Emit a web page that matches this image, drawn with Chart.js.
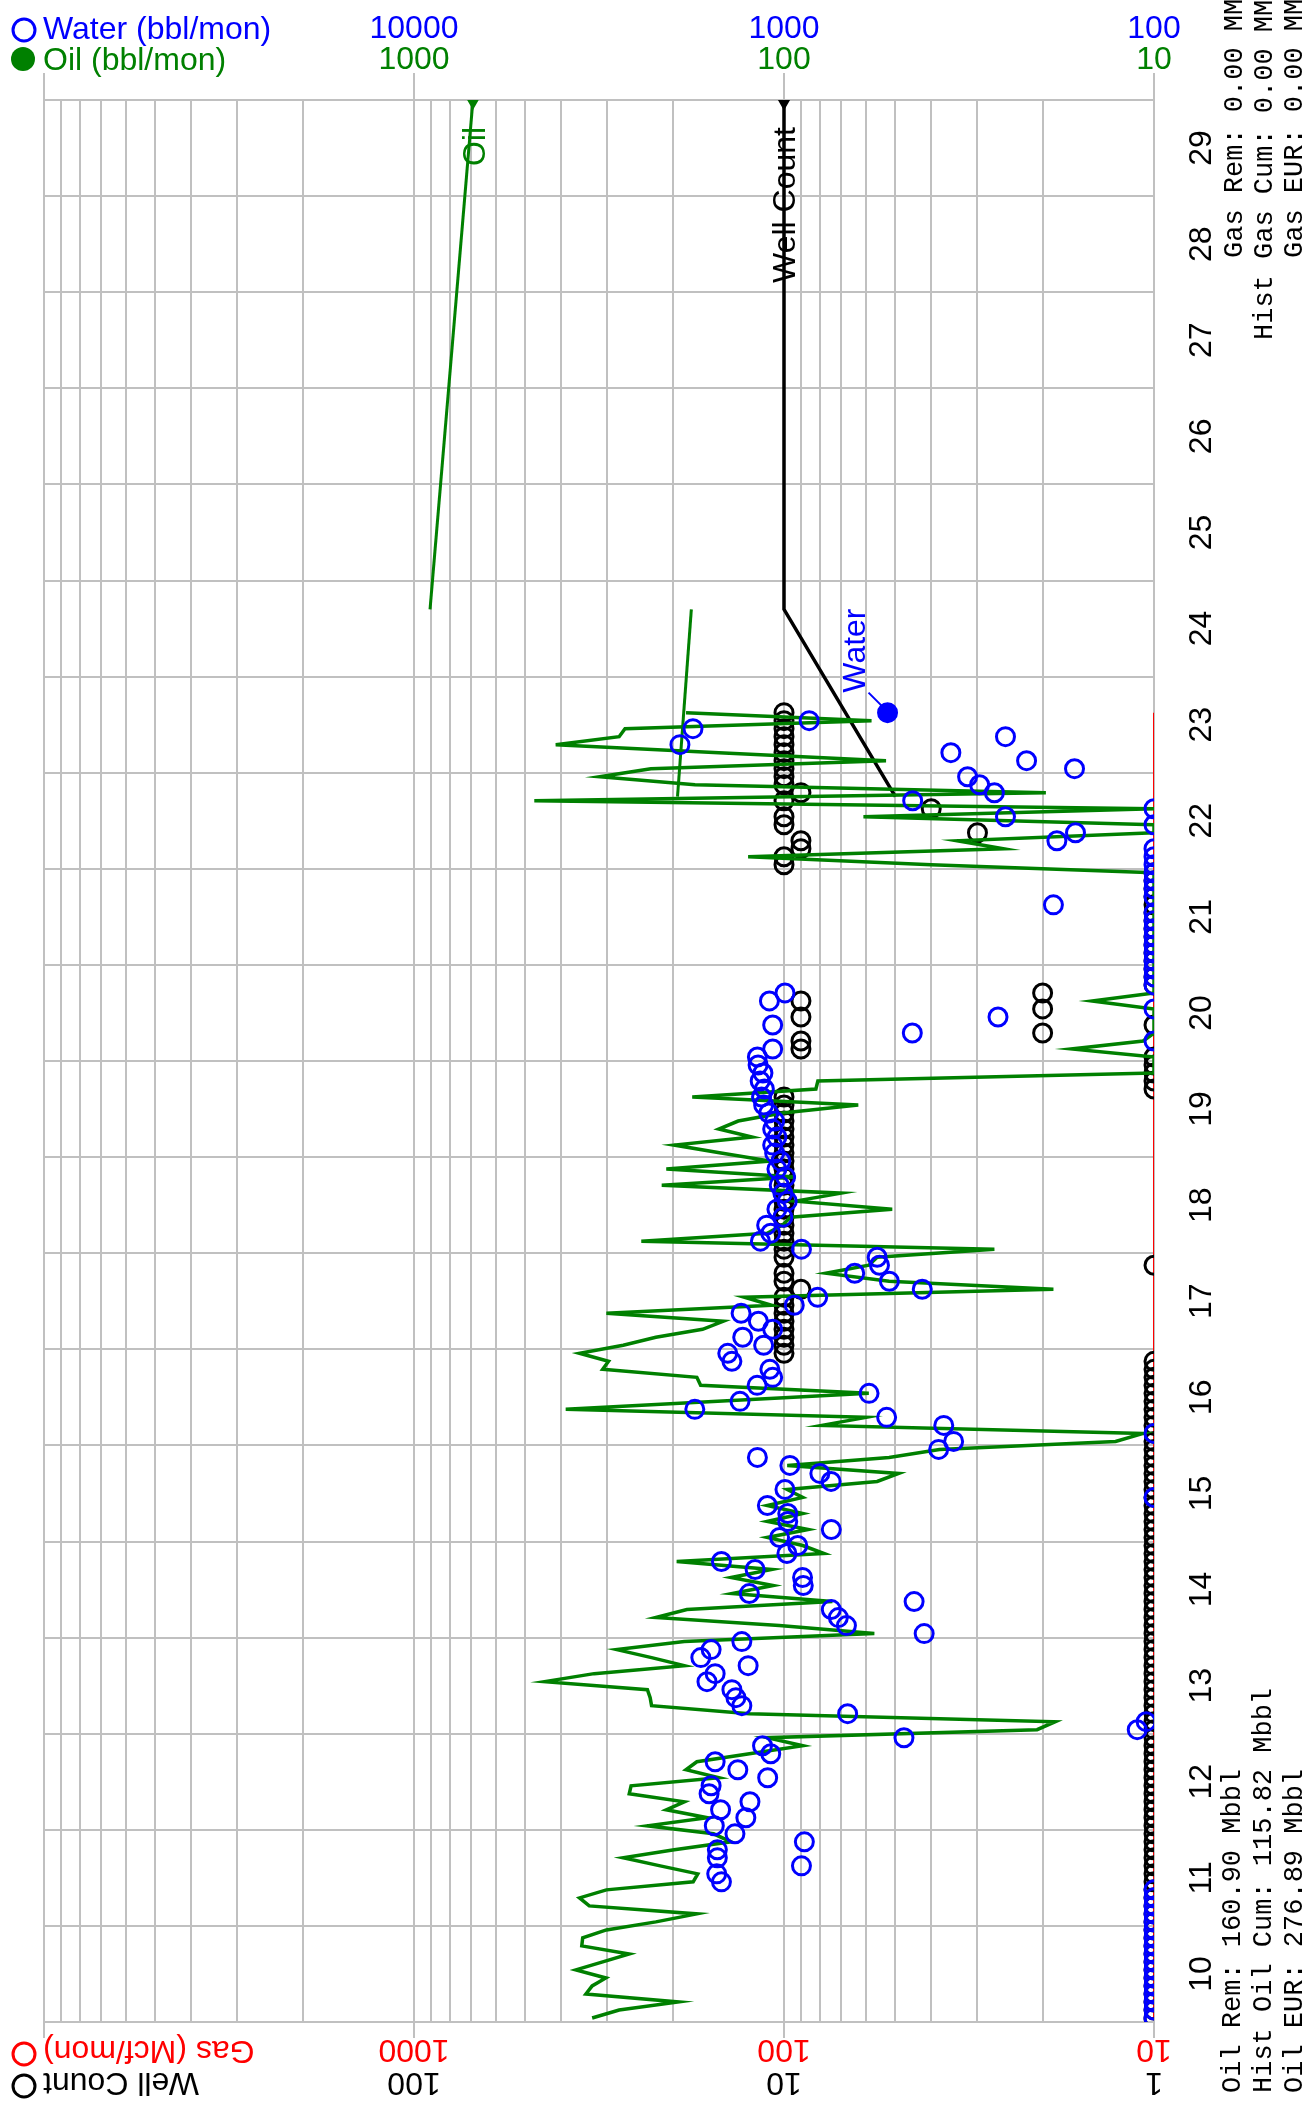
<!DOCTYPE html>
<html>
<head>
<meta charset="utf-8">
<script src="https://cdn.jsdelivr.net/npm/chart.js@4.4.1/dist/chart.umd.min.js"></script>
<style>
  html, body { margin: 0; padding: 0; background: #fff; }
  #wrap { width: 1306px; height: 2112px; }
</style>
</head>
<body>
<div id="wrap"><canvas id="myChart" width="1306" height="2112"></canvas></div>
<script>
// monthly history, first month = Jan 2010
const startYear = 2010;
const yearLabels = ['10', '11', '12', '13', '14', '15', '16', '17', '18', '19',
  '20', '21', '22', '23', '24', '25', '26', '27', '28', '29'];
const wellTicks = ['1', '10', '100'];
const gasTicks = ['10', '100', '1000'];
const waterTicks = ['100', '1000', '10000'];
const oilTicks = ['10', '100', '1000'];

// bbl/mon (0 = no production, drawn on the axis floor)
const oilRate = [
  330, 279, 193, 343, 330, 303, 365, 309, 262, 352,
  350, 302, 222, 172, 336, 357, 302, 176, 171, 216,
  272, 198, 139, 155, 234, 161, 208, 186, 262, 259,
  150, 184, 172, 124, 89, 111, 20.7, 18.5, 124, 228,
  230, 234, 443, 326, 186, 228, 283, 186, 57, 103,
  222, 183, 74, 138, 107, 139, 108, 195, 78, 89,
  111, 86, 111, 89, 111, 89, 98, 56, 49, 98,
  52, 38, 12.7, 10.7, 79, 60, 389, 151, 59, 168,
  172, 309, 298, 357, 272, 222, 166, 146, 302, 108,
  128, 18.7, 52, 77, 59, 56, 27, 243, 111, 101,
  96, 51, 93, 70, 214, 93, 208, 109, 148, 198,
  122, 150, 133, 101, 63, 177, 82, 81, 0, 0,
  0, 16.7, 10.7, 0, 0, 0, 0, 14.7, 0, 0,
  0, 0, 0, 0, 0, 0, 0, 0, 0, 0,
  0, 0, 0, 0, 40, 125, 25.5, 34, 0, 0,
  61, 0, 473, 19.6, 174, 315, 229, 53, 150, 414,
  279, 269, 58, 184
];

const waterRate = [
  0, 0, 0, 0, 0, 0, 0, 0, 0, 0,
  0, 0, 0, 0, 0, 0, 0, 1476, 1520, 897,
  1514, 1514, 881, 1357, 1543, 1268, 1484, 1236, 1594, 1574,
  1107, 1333, 1535, 1086, 1143, 474, 111, 105, 673, 1300,
  1349, 1383, 1615, 1535, 1250, 1678, 1574, 1300, 418, 678,
  713, 745, 445, 1241, 887, 891, 1197, 1476, 982, 918,
  1028, 745, 977, 977, 1109, 0, 994, 746, 800, 964,
  1180, 382, 348, 0, 370, 528, 1742, 1315, 589, 1182,
  1073, 1092, 1383, 1419, 1135, 1293, 1073, 1173, 1306, 938,
  811, 423, 519, 644, 552, 560, 897, 1158, 1086, 1114,
  1007, 1045, 980, 1007, 1030, 990, 1045, 1020, 1060, 1073,
  1045, 1073, 1060, 1100, 1135, 1150, 1130, 1160, 1140, 1175,
  1180, 1073, 0, 450, 1073, 264, 0, 1095, 994, 0,
  0, 0, 0, 0, 0, 0, 0, 0, 0, 187,
  0, 0, 0, 0, 0, 0, 0, 183, 163, 0,
  252, 0, 449, 270, 296, 319, 164, 221, 354, 1911,
  252, 1762, 855, 525
];

const wellCount = [
  1, 1, 1, 1, 1, 1, 1, 1, 1, 1,
  1, 1, 1, 1, 1, 1, 1, 1, 1, 1,
  1, 1, 1, 1, 1, 1, 1, 1, 1, 1,
  1, 1, 1, 1, 1, 1, 1, 1, 1, 1,
  1, 1, 1, 1, 1, 1, 1, 1, 1, 1,
  1, 1, 1, 1, 1, 1, 1, 1, 1, 1,
  1, 1, 1, 1, 1, 1, 1, 1, 1, 1,
  1, 1, 1, 1, 1, 1, 1, 1, 1, 1,
  1, 1, 1, 10, 10, 10, 10, 10, 10, 10,
  10, 9, 10, 10, 1, 10, 10, 10, 10, 10,
  10, 10, 10, 10, 10, 10, 10, 10, 10, 10,
  10, 10, 10, 10, 10, 10, 1, 1, 1, 1,
  1, 9, 9, 2, 1, 9, 2, 9, 2, 1,
  1, 1, 1, 1, 1, 1, 1, 1, 1, 1,
  1, 1, 1, 1, 10, 10, 9, 9, 3, 10,
  10, 4, 10, 9, 10, 10, 10, 10, 10, 10,
  10, 10, 10, 10
];

const gasRate = [
  0, 0, 0, 0, 0, 0, 0, 0, 0, 0,
  0, 0, 0, 0, 0, 0, 0, 0, 0, 0,
  0, 0, 0, 0, 0, 0, 0, 0, 0, 0,
  0, 0, 0, 0, 0, 0, 0, 0, 0, 0,
  0, 0, 0, 0, 0, 0, 0, 0, 0, 0,
  0, 0, 0, 0, 0, 0, 0, 0, 0, 0,
  0, 0, 0, 0, 0, 0, 0, 0, 0, 0,
  0, 0, 0, 0, 0, 0, 0, 0, 0, 0,
  0, 0, 0, 0, 0, 0, 0, 0, 0, 0,
  0, 0, 0, 0, 0, 0, 0, 0, 0, 0,
  0, 0, 0, 0, 0, 0, 0, 0, 0, 0,
  0, 0, 0, 0, 0, 0, 0, 0, 0, 0,
  0, 0, 0, 0, 0, 0, 0, 0, 0, 0,
  0, 0, 0, 0, 0, 0, 0, 0, 0, 0,
  0, 0, 0, 0, 0, 0, 0, 0, 0, 0,
  0, 0, 0, 0, 0, 0, 0, 0, 0, 0,
  0, 0, 0, 0
];

// forecasts (decimal years)
const oilFcstYears = [2024.7, 2030.0];
const oilFcst = [905, 693];
const oilTrendYears = [2022.75, 2024.7];
const oilTrend = [194, 178];
const wellFcstYears = [2022.75, 2024.7, 2030.0];
const wellFcst = [5, 10, 10];

const statsBottom = ['Oil Rem: 160.90 Mbbl', 'Hist Oil Cum: 115.82 Mbbl', 'Oil EUR: 276.89 Mbbl'];
const statsTop = ['Gas Rem: 0.00 MMcf', 'Hist Gas Cum: 0.00 MMcf', 'Gas EUR: 0.00 MMcf'];

const BLUE = '#0000ff', GREEN = '#008000', RED = '#ff0000', BLACK = '#000000';
const gridColor = '#c0c0c0';
const sans = '"Liberation Sans", Arial, sans-serif';
const mono = '"Liberation Mono", "Courier New", monospace';

const monthYear = k => startYear + (k + 0.5) / 12;
function monthly(values, floor) {
  return values.map((v, k) => ({ x: Math.max(v, floor), y: monthYear(k) }));
}
function pairs(years, values) {
  return years.map((t, i) => ({ x: values[i], y: t }));
}

function logGrid(scale) {
  const t = [];
  for (let d = scale.min; d < scale.max; d *= 10) {
    for (let m = 1; m < 10; m++) t.push({ value: d * m });
  }
  t.push({ value: scale.max });
  scale.ticks = t;
}
function yearGrid(scale) {
  const t = [];
  for (let y = scale.min; y <= scale.max; y++) t.push({ value: y });
  scale.ticks = t;
}

function text(ctx, str, x, y, angle, align, color, font) {
  ctx.save();
  ctx.translate(x, y);
  ctx.rotate(angle);
  ctx.textAlign = align;
  ctx.textBaseline = 'alphabetic';
  ctx.fillStyle = color;
  ctx.font = font;
  ctx.fillText(str, 0, 0);
  ctx.restore();
}
function circle(ctx, x, y, r, color, filled) {
  ctx.beginPath();
  ctx.arc(x, y, r, 0, Math.PI * 2);
  if (filled) { ctx.fillStyle = color; ctx.fill(); }
  else { ctx.strokeStyle = color; ctx.lineWidth = 3; ctx.stroke(); }
}

const decorations = {
  id: 'decorations',
  afterDraw(chart) {
    const { ctx, chartArea: a, scales } = chart;
    const f32 = '32px ' + sans;
    ctx.save();

    // decade ticks outside the frame
    ctx.strokeStyle = gridColor;
    ctx.lineWidth = 2;
    [1, 10, 100, 1000].forEach(v => {
      const x = Math.round(scales.x.getPixelForValue(v));
      ctx.beginPath();
      ctx.moveTo(x, a.top - 27); ctx.lineTo(x, a.top);
      ctx.moveTo(x, a.bottom); ctx.lineTo(x, a.bottom + 16);
      ctx.stroke();
    });

    // top axis labels
    waterTicks.forEach(l => text(ctx, l, scales.xWater.getPixelForValue(+l), 38, 0, 'center', BLUE, f32));
    oilTicks.forEach(l => text(ctx, l, scales.xOil.getPixelForValue(+l), 69, 0, 'center', GREEN, f32));
    // bottom axis labels (upside down)
    gasTicks.forEach(l => text(ctx, l, scales.xGas.getPixelForValue(+l), a.bottom + 18, Math.PI, 'center', RED, f32));
    wellTicks.forEach(l => text(ctx, l, scales.x.getPixelForValue(+l), a.bottom + 51, Math.PI, 'center', BLACK, f32));

    // year labels
    yearLabels.forEach((l, i) => {
      const y = scales.y.getPixelForValue(startYear + i + 0.5);
      text(ctx, l, a.right + 57, y, -Math.PI / 2, 'center', BLACK, f32);
    });

    // legends
    circle(ctx, 24, 30, 11, BLUE, false);
    text(ctx, 'Water (bbl/mon)', 43, 39, 0, 'left', BLUE, f32);
    circle(ctx, 23, 59, 12, GREEN, true);
    text(ctx, 'Oil (bbl/mon)', 43, 70, 0, 'left', GREEN, f32);
    circle(ctx, 24, 2054, 11, RED, false);
    text(ctx, 'Gas (Mcf/mon)', 43, a.bottom + 19, Math.PI, 'right', RED, f32);
    circle(ctx, 24, 2086, 11, BLACK, false);
    text(ctx, 'Well Count', 43, a.bottom + 51, Math.PI, 'right', BLACK, f32);

    // stats text
    const f27 = '27px ' + mono;
    statsBottom.forEach((s, i) => text(ctx, s, 1240 + i * 31, 2093, -Math.PI / 2, 'left', BLACK, f27));
    text(ctx, statsTop[0], 1242, 258, -Math.PI / 2, 'left', BLACK, f27);
    text(ctx, statsTop[1], 1272, 340, -Math.PI / 2, 'left', BLACK, f27);
    text(ctx, statsTop[2], 1302, 258, -Math.PI / 2, 'left', BLACK, f27);

    // curve labels
    const oilEnd = chart.getDatasetMeta(3).data[1];
    text(ctx, 'Oil', oilEnd.x + 12, oilEnd.y + 27, -Math.PI / 2, 'right', GREEN, f32);
    const wellEnd = chart.getDatasetMeta(5).data[2];
    text(ctx, 'Well Count', wellEnd.x + 11, wellEnd.y + 27, -Math.PI / 2, 'right', BLACK, f32);
    const wMeta = chart.getDatasetMeta(0).data;
    const wLast = wMeta[wMeta.length - 1];
    ctx.strokeStyle = BLUE;
    ctx.lineWidth = 2;
    ctx.beginPath();
    ctx.moveTo(wLast.x - 4, wLast.y - 5);
    ctx.lineTo(wLast.x - 19, wLast.y - 20);
    ctx.stroke();
    text(ctx, 'Water', wLast.x - 23, wLast.y - 20, -Math.PI / 2, 'left', BLUE, f32);

    ctx.restore();
  }
};

const hiddenLog = (min, max) => ({ type: 'logarithmic', display: false, reverse: true, min: min, max: max });

const ctx = document.getElementById('myChart').getContext('2d');
new Chart(ctx, {
  type: 'scatter',
  data: {
    datasets: [
      {
        label: 'Water (bbl/mon)', xAxisID: 'xWater', yAxisID: 'y',
        data: monthly(waterRate, 100), showLine: false,
        pointRadius: 9, pointBorderWidth: 3, pointBorderColor: BLUE,
        pointBackgroundColor: waterRate.map((v, i) => i === waterRate.length - 1 ? BLUE : 'rgba(0,0,0,0)')
      },
      {
        label: 'Oil (bbl/mon)', xAxisID: 'xOil', yAxisID: 'y',
        data: monthly(oilRate, 10), showLine: true,
        borderColor: GREEN, borderWidth: 3.5, pointRadius: 0
      },
      {
        label: 'Well Count', xAxisID: 'x', yAxisID: 'y',
        data: monthly(wellCount, 1), showLine: false,
        pointRadius: 9, pointBorderWidth: 3, pointBorderColor: BLACK,
        pointBackgroundColor: 'rgba(0,0,0,0)'
      },
      {
        label: 'Oil forecast', xAxisID: 'xOil', yAxisID: 'y',
        data: pairs(oilFcstYears, oilFcst), showLine: true,
        borderColor: GREEN, borderWidth: 3,
        pointRadius: [0, 7], pointStyle: 'triangle', pointRotation: 180,
        pointBackgroundColor: GREEN, pointBorderColor: GREEN
      },
      {
        label: 'Oil trend', xAxisID: 'xOil', yAxisID: 'y',
        data: pairs(oilTrendYears, oilTrend), showLine: true,
        borderColor: GREEN, borderWidth: 3, pointRadius: 0
      },
      {
        label: 'Well forecast', xAxisID: 'x', yAxisID: 'y',
        data: pairs(wellFcstYears, wellFcst), showLine: true,
        borderColor: BLACK, borderWidth: 3.5,
        pointRadius: [0, 0, 7], pointStyle: 'triangle', pointRotation: 180,
        pointBackgroundColor: BLACK, pointBorderColor: BLACK
      },
      {
        label: 'Gas (Mcf/mon)', xAxisID: 'xGas', yAxisID: 'y',
        data: monthly(gasRate, 10), showLine: true,
        borderColor: RED, borderWidth: 2, pointRadius: 0
      }
    ]
  },
  options: {
    responsive: false,
    devicePixelRatio: 1,
    animation: false,
    events: [],
    layout: { padding: { left: 44, top: 100, right: 152, bottom: 90 }, autoPadding: false },
    plugins: { legend: { display: false }, tooltip: { enabled: false } },
    scales: {
      x: {
        type: 'logarithmic', position: 'bottom', reverse: true, min: 1, max: 1000,
        afterBuildTicks: logGrid,
        ticks: { display: false },
        grid: { color: gridColor, lineWidth: 2, drawTicks: false },
        border: { display: true, color: gridColor, width: 2 }
      },
      xWater: hiddenLog(100, 100000),
      xOil: hiddenLog(10, 10000),
      xGas: hiddenLog(10, 10000),
      y: {
        type: 'linear', position: 'right', min: 2010, max: 2030,
        afterBuildTicks: yearGrid,
        ticks: { display: false },
        grid: { color: gridColor, lineWidth: 2, drawTicks: false },
        border: { display: true, color: gridColor, width: 2 }
      }
    }
  },
  plugins: [decorations]
});
</script>
</body>
</html>
